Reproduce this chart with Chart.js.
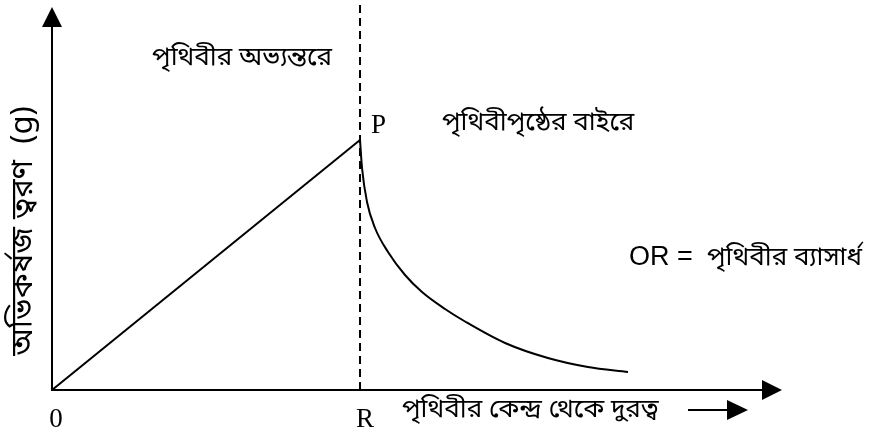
<!DOCTYPE html>
<html>
<head>
<meta charset="utf-8">
<script src="https://cdn.jsdelivr.net/npm/chart.js@4/dist/chart.umd.min.js"></script>
<style>
html,body{margin:0;padding:0;background:#fff;}
#wrap{width:885px;height:429px;position:relative;}
</style>
</head>
<body>
<div id="wrap"><canvas id="c" width="885" height="429"></canvas></div>
<script>
// distance from Earth's centre in units of R, gravity in units of g at surface
const insideX = [0, 1];
const insideG = [0, 1];
const outsideX = [1, 1.0065, 1.0227, 1.0487, 1.0909, 1.1461, 1.2013, 1.276, 1.341, 1.471, 1.61, 1.74, 1.87];
const outsideG = [1, 0.888, 0.752, 0.648, 0.552, 0.46, 0.392, 0.324, 0.274, 0.188, 0.128, 0.092, 0.072];
const surfaceX = [1, 1];
const surfaceG = [0, 1.54];
const tickLabels = ['0', 'R'];
const tickValues = [0, 1];
const yTitle = 'অভিকর্ষজ ত্বরণ  (g)';
const xTitle = 'পৃথিবীর কেন্দ্র থেকে দুরত্ব';
const insideLabel = 'পৃথিবীর অভ্যন্তরে';
const outsideLabel = 'পৃথিবীপৃষ্ঠের বাইরে';
const radiusNote = 'পৃথিবীর ব্যাসার্ধ';

const toPts = (xs, ys) => xs.map((x, i) => ({x: x, y: ys[i]}));
const BN = '"Noto Sans Bengali","Noto Serif Bengali","Lohit Bengali","FreeSerif",sans-serif';

function tri(ctx, pts){
  ctx.beginPath();
  ctx.moveTo(pts[0][0], pts[0][1]);
  ctx.lineTo(pts[1][0], pts[1][1]);
  ctx.lineTo(pts[2][0], pts[2][1]);
  ctx.closePath();
  ctx.fill();
}

const decor = {
  id: 'decor',
  afterDraw(chart){
    const ctx = chart.ctx;
    const xs = chart.scales.x, ys = chart.scales.y;
    const ox = xs.getPixelForValue(0), oy = ys.getPixelForValue(0);
    const yTip = ys.getPixelForValue(1.532);
    const xTip = xs.getPixelForValue(2.37);
    ctx.save();
    ctx.strokeStyle = '#000';
    ctx.fillStyle = '#000';
    ctx.lineWidth = 2;
    // y axis
    ctx.beginPath(); ctx.moveTo(ox, oy + 1); ctx.lineTo(ox, yTip + 18); ctx.stroke();
    tri(ctx, [[ox, yTip], [ox - 10, yTip + 20], [ox + 10, yTip + 20]]);
    // x axis
    ctx.beginPath(); ctx.moveTo(ox - 1, oy); ctx.lineTo(xTip - 18, oy); ctx.stroke();
    tri(ctx, [[xTip, oy], [xTip - 20, oy - 10], [xTip - 20, oy + 10]]);

    // tick labels
    ctx.font = '27px "Liberation Serif", serif';
    ctx.textBaseline = 'alphabetic';
    ctx.textAlign = 'center';
    tickLabels.forEach((t, i) => {
      ctx.fillText(t, xs.getPixelForValue(tickValues[i]) + (i === 0 ? 4 : 5), oy + 37);
    });
    // P label
    ctx.textAlign = 'left';
    ctx.fillText('P', xs.getPixelForValue(1) + 11, ys.getPixelForValue(1) - 7);

    // x title + arrow
    ctx.font = '26px ' + BN;
    ctx.textAlign = 'left';
    ctx.fillText(xTitle, 402, oy + 27);
    ctx.lineWidth = 2;
    ctx.beginPath(); ctx.moveTo(688, oy + 20); ctx.lineTo(730, oy + 20); ctx.stroke();
    tri(ctx, [[748, oy + 20], [727, oy + 10], [727, oy + 30]]);

    // region labels
    ctx.textAlign = 'center';
    ctx.fillText(insideLabel, 242, 65);
    ctx.textAlign = 'left';
    ctx.fillText(outsideLabel, 442, 130);

    // OR note
    ctx.font = '27px "Liberation Sans", Arial, sans-serif';
    ctx.fillText('OR =', 629, 265);
    ctx.font = '26px ' + BN;
    ctx.fillText(radiusNote, 707, 265);

    // y title rotated
    ctx.translate(26, 231);
    ctx.rotate(-Math.PI / 2);
    ctx.textAlign = 'center';
    ctx.textBaseline = 'middle';
    ctx.font = '31px ' + BN;
    ctx.fillText(yTitle, 0, 0);
    ctx.restore();
  }
};

new Chart(document.getElementById('c'), {
  type: 'line',
  data: {
    datasets: [
      {data: toPts(surfaceX, surfaceG), borderColor: '#000', borderWidth: 2, borderDash: [8, 5], pointRadius: 0, tension: 0, fill: false},
      {data: toPts(insideX, insideG), borderColor: '#000', borderWidth: 2, pointRadius: 0, tension: 0, fill: false},
      {data: toPts(outsideX, outsideG), borderColor: '#000', borderWidth: 2, pointRadius: 0, cubicInterpolationMode: 'monotone', fill: false}
    ]
  },
  options: {
    responsive: false,
    animation: false,
    devicePixelRatio: 1,
    layout: {padding: {left: 52, top: 5, right: 103, bottom: 39}},
    plugins: {legend: {display: false}, tooltip: {enabled: false}},
    scales: {
      x: {type: 'linear', min: 0, max: 2.37, display: false},
      y: {type: 'linear', min: 0, max: 1.54, display: false}
    }
  },
  plugins: [decor]
});
</script>
</body>
</html>
